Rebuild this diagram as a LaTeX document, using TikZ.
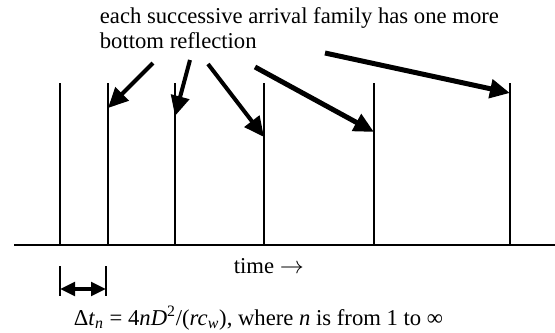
\documentclass[tikz,border=0pt]{standalone}
\usepackage{fontspec}
\setmainfont{Liberation Serif}
\usetikzlibrary{arrows.meta}

\begin{document}
\begin{tikzpicture}[x=0.6pt, y=-0.6pt, font=\fontsize{13.6}{15}\selectfont,
  spike/.style={line width=0.9pt},
  pointer/.style={-{Triangle[length=12pt, width=11pt]}, line width=2.4pt}]
  \useasboundingbox (0,0) rectangle (555,332);
  % time axis
  \coordinate (t0) at (14,245);
  \coordinate (t1) at (555,245);
  \draw[line width=1pt] (t0) -- (t1);
  % arrivals
  \foreach \name/\x in {a1/60, a2/108, a3/175, a4/264, a5/374, a6/510} {
    \coordinate (\name) at (\x,83);
    \coordinate (\name-foot) at (\x,245);
    \draw[spike] (\name) -- (\name-foot);
  }
  \node (note) [anchor=base west, align=left] at (94,48)
    {each successive arrival family has one more\\bottom reflection};
  \node (time) [anchor=base west] at (228,273) {time $\rightarrow$};
  \node (delta) [anchor=base west] at (68,325)
    {Δ\textit{t}\textsubscript{\textit{n}} = 4\textit{nD}\textsuperscript{2}/(\textit{rc}\textsubscript{\textit{w}}), where \textit{n} is from 1 to ∞};
  % where the pointers start and end
  \coordinate (p1) at (153,63);
  \coordinate (p2) at (190,60);
  \coordinate (p3) at (208,64);
  \coordinate (p4) at (255,67);
  \coordinate (p5) at (325,53);
  \coordinate (h2) at (108,108);
  \coordinate (h3) at (175,116);
  \coordinate (h4) at (264,137);
  \coordinate (h5) at (374,132);
  \coordinate (h6) at (510,93);
  \draw[pointer] (p1) -- (h2);
  \draw[pointer] (p2) -- (h3);
  \draw[pointer] (p3) -- (h4);
  \draw[pointer, line width=3pt] (p4) -- (h5);
  \draw[pointer, line width=3pt] (p5) -- (h6);
  % spacing of the first two arrivals
  \coordinate (b1) at (60,266);
  \coordinate (b1-end) at (60,296);
  \coordinate (b2) at (106,266);
  \coordinate (b2-end) at (106,296);
  \draw[spike] (b1) -- (b1-end);
  \draw[spike] (b2) -- (b2-end);
  \draw[{Triangle[length=9pt, width=8pt]}-{Triangle[length=9pt, width=8pt]}, line width=2.4pt]
    (60,289) -- (106,289);
\end{tikzpicture}
\end{document}
